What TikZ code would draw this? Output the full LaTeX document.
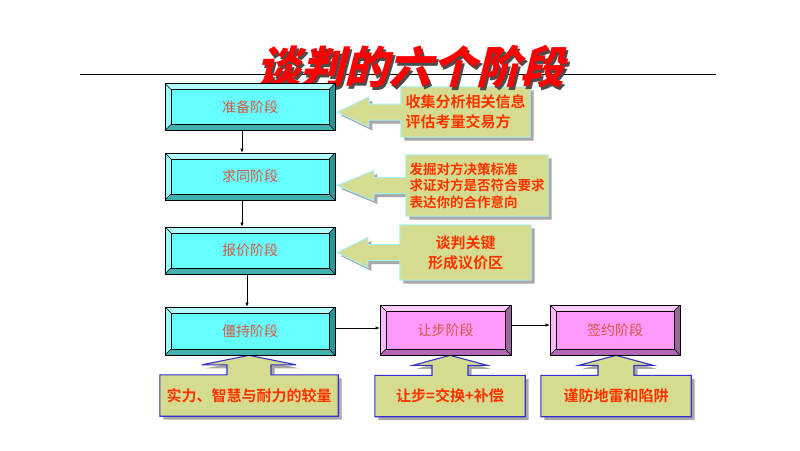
\documentclass[tikz,border=0pt]{standalone}
\usepackage{fontspec}
\setmainfont{Noto Sans CJK SC}
\newfontfamily\boldcjk{Noto Sans CJK SC Bold}
\newfontfamily\titlecjk[FakeSlant=0.25]{Noto Sans CJK SC Black}
\usetikzlibrary{arrows.meta}
\definecolor{cface}{HTML}{66FFFF}
\definecolor{ctop}{HTML}{B3FFFF}
\definecolor{cleft}{HTML}{99FFFF}
\definecolor{cbot}{HTML}{40B0B0}
\definecolor{cright}{HTML}{2E9494}
\definecolor{pface}{HTML}{FF99FF}
\definecolor{ptop}{HTML}{FFCCFF}
\definecolor{pleft}{HTML}{FFB8FF}
\definecolor{pbot}{HTML}{B366B3}
\definecolor{pright}{HTML}{996699}
\definecolor{callfill}{HTML}{D6DC8F}
\definecolor{rborder}{HTML}{A6F2F2}
\definecolor{bborder}{HTML}{3333CC}
\definecolor{shadowgray}{HTML}{A8A8A8}
\definecolor{calltext}{HTML}{FF3300}
\definecolor{boxtext}{HTML}{D9553F}
\definecolor{titlered}{HTML}{FF0000}
\pgfdeclarelayer{bg}
\pgfsetlayers{bg,main}
\tikzset{
  bevel/.style n args={5}{draw=black, line width=0.7pt, fill=#1, inner sep=0pt,
    text=boxtext, font=\fontsize{14}{16}\selectfont,
    path picture={
      \path (path picture bounding box.north west) coordinate (pnw)
            (path picture bounding box.north east) coordinate (pne)
            (path picture bounding box.south west) coordinate (psw)
            (path picture bounding box.south east) coordinate (pse);
      \fill[#2] (pnw) -- (pne) -- ([shift={(-6pt,-6pt)}]pne) -- ([shift={(6pt,-6pt)}]pnw) -- cycle;
      \fill[#3] (pnw) -- (psw) -- ([shift={(6pt,6pt)}]psw) -- ([shift={(6pt,-6pt)}]pnw) -- cycle;
      \fill[#4] (psw) -- (pse) -- ([shift={(-6pt,6pt)}]pse) -- ([shift={(6pt,6pt)}]psw) -- cycle;
      \fill[#5] (pne) -- (pse) -- ([shift={(-6pt,6pt)}]pse) -- ([shift={(-6pt,-6pt)}]pne) -- cycle;
      \draw[line width=0.5pt] ([shift={(6pt,-6pt)}]pnw) rectangle ([shift={(-6pt,6pt)}]pse);
      \draw[line width=0.5pt] (pnw) -- ([shift={(6pt,-6pt)}]pnw) (pne) -- ([shift={(-6pt,-6pt)}]pne)
            (psw) -- ([shift={(6pt,6pt)}]psw) (pse) -- ([shift={(-6pt,6pt)}]pse);
    }},
  cyanbox/.style={bevel={cface}{ctop}{cleft}{cbot}{cright}, minimum width=170pt, minimum height=47pt},
  pinkbox/.style={bevel={pface}{ptop}{pleft}{pbot}{pright}, minimum width=131pt, minimum height=50pt},
  conn/.style={line width=0.7pt, -{Latex[length=4pt,width=3.5pt]}},
  rcall/.style={text=calltext, font=\boldcjk\fontsize{15}{20}\selectfont, align=left, inner sep=0pt},
  bcall/.style={text=calltext, font=\boldcjk\fontsize{15}{18}\selectfont, inner sep=0pt, minimum height=41pt},
  rshape/.style={fill=callfill, draw=rborder, line width=1pt, line join=miter},
  bshape/.style={fill=callfill, draw=bborder, line width=1.1pt, line join=miter},
  titletext/.style={font=\titlecjk\fontsize{44}{48}\selectfont, inner sep=0pt}
}
\begin{document}
\begin{tikzpicture}[x=1pt,y=-1pt]
\useasboundingbox (0,0) rectangle (800,450);
\draw[line width=0.9pt] (80,74) -- (716,74);
\node[titletext, text=black!70] (titleshadow) at (412.5,69.5) {谈判的六个阶段};
\node[titletext, text=titlered] (title) at (410,67) {谈判的六个阶段};

% stage boxes
\node[cyanbox] (b1) at (250,107) {准备阶段};
\node[cyanbox] (b2) at (250,176.5) {求同阶段};
\node[cyanbox] (b3) at (250,250.5) {报价阶段};
\node[cyanbox, minimum height=48pt] (b4) at (250,331) {僵持阶段};
\node[pinkbox] (b5) at (445.5,330) {让步阶段};
\node[pinkbox, minimum width=130pt] (b6) at (615,330) {签约阶段};

% connectors
\draw[conn] ([xshift=-8pt]b1.south) -- ([xshift=-8pt]b2.north);
\draw[conn] ([xshift=-8pt]b2.south) -- ([xshift=-8pt]b3.north);
\draw[conn] ([xshift=-3pt]b3.south) -- ([xshift=-3pt]b4.north);
\draw[conn] ([yshift=3pt]b4.east) -- ([yshift=3pt]b4.east -| b5.west);
\draw[conn] ([yshift=5pt]b5.east) -- ([yshift=5pt]b5.east -| b6.west);

% callout texts
\node[rcall, minimum width=129pt, minimum height=50pt] (c1) at (465.5,112) {收集分析相关信息\\评估考量交易方};
\node[rcall, font=\boldcjk\fontsize{13.5}{16.5}\selectfont, minimum width=142pt, minimum height=61pt] (c2) at (477,185.5) {发掘对方决策标准\\求证对方是否符合要求\\表达你的合作意向};
\node[rcall, align=center, minimum width=131pt, minimum height=55pt] (c3) at (465.5,252.5) {谈判关键\\形成议价区};
\node[bcall, minimum width=178pt] (d1) at (249,395.5) {实力、智慧与耐力的较量};
\node[bcall, minimum width=150pt] (d2) at (450,396) {让步=交换+补偿};
\node[bcall, minimum width=150pt] (d3) at (616,396) {谨防地雷和陷阱};

\begin{pgfonlayer}{bg}
\fill[white] (0,0) rectangle (800,450);
\foreach \c/\b in {c1/b1,c2/b2,c3/b3}{
  \fill[shadowgray, transform canvas={xshift=3.5pt,yshift=-3.5pt}] (\c.north west) -- (\c.north east) -- (\c.south east) -- (\c.south west)
    -- ([yshift=-8pt]\c.west) -- ([shift={(-32pt,-8pt)}]\c.west) -- ([shift={(-32pt,-15pt)}]\c.west)
    -- ([xshift=2pt]\b.east |- \c.west)
    -- ([shift={(-32pt,15pt)}]\c.west) -- ([shift={(-32pt,8pt)}]\c.west) -- ([yshift=8pt]\c.west) -- cycle;
  \filldraw[rshape] (\c.north west) -- (\c.north east) -- (\c.south east) -- (\c.south west)
    -- ([yshift=-8pt]\c.west) -- ([shift={(-32pt,-8pt)}]\c.west) -- ([shift={(-32pt,-15pt)}]\c.west)
    -- ([xshift=2pt]\b.east |- \c.west)
    -- ([shift={(-32pt,15pt)}]\c.west) -- ([shift={(-32pt,8pt)}]\c.west) -- ([yshift=8pt]\c.west) -- cycle;
}
\foreach \d/\b/\hw/\sw in {d1/b4/47/22, d2/b5/37/18, d3/b6/37/18}{
  \fill[shadowgray, transform canvas={xshift=3.5pt,yshift=-3.5pt}] (\d.north west) -- ([xshift=-\sw pt]\d.north) -- ([shift={(-\sw pt,10pt)}]\d.north)
    -- ([shift={(-\hw pt,10pt)}]\d.north) -- (\d.north |- \b.south) -- ([shift={(\hw pt,10pt)}]\d.north)
    -- ([shift={(\sw pt,10pt)}]\d.north) -- ([xshift=\sw pt]\d.north) -- (\d.north east) -- (\d.south east) -- (\d.south west) -- cycle;
  \filldraw[bshape] (\d.north west) -- ([xshift=-\sw pt]\d.north) -- ([shift={(-\sw pt,10pt)}]\d.north)
    -- ([shift={(-\hw pt,10pt)}]\d.north) -- (\d.north |- \b.south) -- ([shift={(\hw pt,10pt)}]\d.north)
    -- ([shift={(\sw pt,10pt)}]\d.north) -- ([xshift=\sw pt]\d.north) -- (\d.north east) -- (\d.south east) -- (\d.south west) -- cycle;
}
\end{pgfonlayer}
\end{tikzpicture}
\end{document}
